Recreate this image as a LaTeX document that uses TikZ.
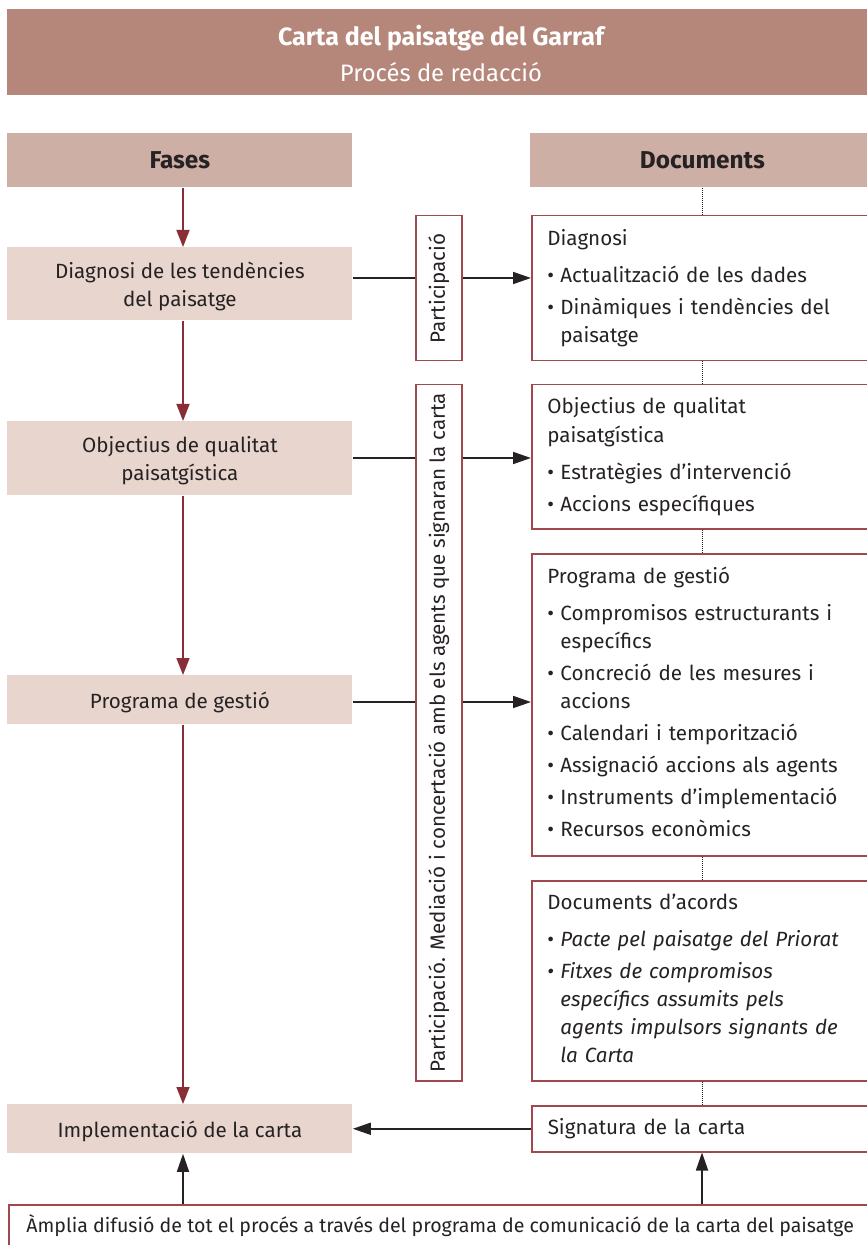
\documentclass[tikz,border=0pt]{standalone}
\usepackage{fontspec}
\setmainfont{Fira Sans}
\usetikzlibrary{arrows.meta, positioning, calc}

\definecolor{bannercol}{RGB}{181,135,123}
\definecolor{headcol}{RGB}{206,175,166}
\definecolor{phasecol}{RGB}{232,214,206}
\definecolor{edgecol}{RGB}{160,72,78}
\definecolor{flowcol}{RGB}{138,46,54}
\definecolor{inkcol}{RGB}{38,34,35}

% bullet line with hanging indent
\newcommand{\itm}[1]{\par\vspace{2pt}\hangindent=6.5pt\hangafter=1\makebox[6.5pt][l]{\textbullet}#1}
\newcommand{\dochead}[1]{#1\par\vspace{2.5pt}}

\tikzset{
  bodyfont/.style={font=\fontsize{10.3}{14}\selectfont, text=inkcol},
  banner/.style={fill=bannercol, inner sep=0pt, anchor=north west},
  headbox/.style={fill=headcol, inner sep=0pt, anchor=north west, text=inkcol,
    font=\bfseries\fontsize{12.2}{14}\selectfont},
  phasebox/.style={bodyfont, fill=phasecol, inner sep=0pt, anchor=north west,
    align=center, minimum width=172.5pt, text depth=-1pt},
  docbox/.style={draw=edgecol, line width=0.75pt, inner sep=0pt, anchor=north west},
  doctext/.style={bodyfont, inner sep=0pt, anchor=base west, text width=170pt},
  partbox/.style={docbox, minimum width=23pt},
  flow/.style={draw=flowcol, line width=0.8pt, -{Triangle[length=8.5pt,width=6.5pt]}},
  link/.style={draw=inkcol, line width=0.9pt},
  linkarrow/.style={link, -{Triangle[length=9pt,width=6pt]}},
  dotline/.style={draw=inkcol, line width=0.5pt, dash pattern=on 0.5pt off 0.5pt},
}

\begin{document}
\begin{tikzpicture}[x=0.5pt, y=-0.5pt]
  \useasboundingbox (0,0) rectangle (866,1245);

  % Title
  \node[banner, minimum width=436.5pt, minimum height=43pt] (banner) at (7,9) {};
  \node[text=white, font=\bfseries\fontsize{12.5}{14}\selectfont] (title) at (441,38) {Carta del paisatge del Garraf};
  \node[text=white, font=\fontsize{11.9}{14}\selectfont] (subtitle) at (441,72) {Procés de redacció};

  % Column heads
  \node[headbox, minimum width=172.5pt, minimum height=27pt] (hfas) at (7,133) {Fases};
  \node[headbox, minimum width=172pt, minimum height=27pt] (hdoc) at (530,133) {Documents};

  \coordinate (lc) at (183,0);
  \coordinate (dc) at (702,0);

  % Phases
  \node[phasebox, minimum height=36.5pt] (ph1) at (7,247) {Diagnosi de les tendències\\del paisatge};
  \node[phasebox, minimum height=37pt] (ph2) at (7,421) {Objectius de qualitat\\paisatgística};
  \node[phasebox, minimum height=24.5pt] (ph3) at (7,675) {Programa de gestió};
  \node[phasebox, minimum height=24.5pt] (ph4) at (7,1104) {Implementació de la carta};

  % Participation
  \node[partbox, minimum height=72.5pt] (pa1) at (415,215) {};
  \node[bodyfont, rotate=90] (pa1t) at (pa1.center) {Participació};
  \node[partbox, minimum height=348pt] (pa2) at (415,384) {};
  \node[bodyfont, rotate=90] (pa2t) at (pa2.center) {Participació. Mediació i concertació amb els agents que signaran la carta};

  % Documents
  \node[docbox, minimum width=170pt, minimum height=72.5pt] (d1) at (531,215) {};
  \node[doctext] (d1t) at ([shift={(16,31)}]d1.north west)
    {\raggedright\dochead{Diagnosi}
     \itm{Actualització de les dades}
     \itm{Dinàmiques i tendències del\newline paisatge}\par};

  \node[docbox, minimum width=170pt, minimum height=72pt] (d2) at (531,384) {};
  \node[doctext] (d2t) at ([shift={(16,30)}]d2.north west)
    {\raggedright Objectius de qualitat\newline\dochead{paisatgística}
     \itm{Estratègies d’intervenció}
     \itm{Accions específiques}\par};

  \node[docbox, minimum width=170pt, minimum height=151pt] (d3) at (531,553) {};
  \node[doctext] (d3t) at ([shift={(16,30)}]d3.north west)
    {\raggedright\dochead{Programa de gestió}
     \itm{Compromisos estructurants i\newline específics}
     \itm{Concreció de les mesures i\newline accions}
     \itm{Calendari i temporització}
     \itm{Assignació accions als agents}
     \itm{Instruments d’implementació}
     \itm{Recursos econòmics}\par};

  \node[docbox, minimum width=170pt, minimum height=100pt] (d4) at (531,880) {};
  \node[doctext] (d4t) at ([shift={(16,29)}]d4.north west)
    {\raggedright\dochead{Documents d’acords}
     \itm{\itshape Pacte pel paisatge del Priorat}
     \itm{\itshape Fitxes de compromisos\newline específics assumits pels\newline agents impulsors signants de\newline la Carta}\par};

  \node[docbox, minimum width=170pt, minimum height=23pt, bodyfont, align=left,
    text width=155pt, inner xsep=8pt] (d5) at (531,1105) {Signatura de la carta};

  % Bottom
  \node[docbox, minimum width=436pt, minimum height=30pt] (bb) at (8,1204) {};
  \node[text=inkcol, font=\fontsize{9.8}{14}\selectfont, inner sep=0pt, anchor=base west] (bbt) at ([shift={(18,28)}]bb.north west)
    {Àmplia difusió de tot el procés a través del programa de comunicació de la carta del paisatge};

  % Flow of phases
  \draw[flow] (lc |- hfas.south) -- (lc |- ph1.north);
  \draw[flow] (lc |- ph1.south) -- (lc |- ph2.north);
  \draw[flow] (lc |- ph2.south) -- (lc |- ph3.north);
  \draw[flow] (lc |- ph3.south) -- (lc |- ph4.north);

  % Documents chain
  \draw[dotline] (dc |- hdoc.south) -- (dc |- d1.north);
  \draw[dotline] (dc |- d1.south) -- (dc |- d2.north);
  \draw[dotline] (dc |- d2.south) -- (dc |- d3.north);
  \draw[dotline] (dc |- d3.south) -- (dc |- d4.north);
  \draw[dotline] (dc |- d4.south) -- (dc |- d5.north);

  % Phases to documents
  \coordinate (r1) at (0,278);
  \coordinate (r2) at (0,458);
  \coordinate (r3) at (0,702);
  \draw[link] (ph1.east |- r1) -- (pa1.west |- r1);
  \draw[linkarrow] (pa1.east |- r1) -- (d1.west |- r1);
  \draw[link] (ph2.east |- r2) -- (pa2.west |- r2);
  \draw[linkarrow] (pa2.east |- r2) -- (d2.west |- r2);
  \draw[link] (ph3.east |- r3) -- (pa2.west |- r3);
  \draw[linkarrow] (pa2.east |- r3) -- (d3.west |- r3);

  \draw[linkarrow] (d5.west) -- (d5.west -| ph4.east);
  \draw[linkarrow] (lc |- bb.north) -- (lc |- ph4.south);
  \draw[linkarrow] (dc |- bb.north) -- (dc |- d5.south);
\end{tikzpicture}
\end{document}
